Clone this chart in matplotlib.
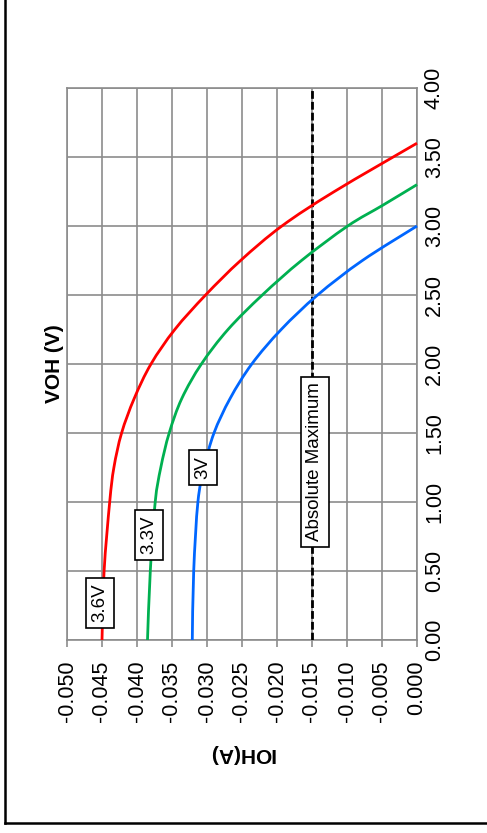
import matplotlib
matplotlib.use("Agg")
import matplotlib.pyplot as plt
from matplotlib.lines import Line2D
from matplotlib.path import Path
from matplotlib.patches import PathPatch

plt.rcParams['font.family'] = ['Liberation Sans', 'DejaVu Sans']

# Data (VOH in V, IOH in A)
voh_36 = [0.0, 0.5, 1.0, 1.25, 1.5, 1.75, 2.0, 2.25, 2.5, 2.75, 3.0, 3.25, 3.6]
ioh_36 = [-0.0450, -0.0447, -0.0439, -0.0433, -0.0422, -0.0404, -0.0380, -0.0346, -0.0302, -0.0252,
          -0.0193, -0.0118, 0.0]

voh_33 = [0.0, 0.5, 1.0, 1.25, 1.5, 1.75, 2.0, 2.25, 2.5, 2.75, 3.0, 3.15, 3.3]
ioh_33 = [-0.0385, -0.0381, -0.0374, -0.0366, -0.0354, -0.0336, -0.0308, -0.0270, -0.0221, -0.0165,
          -0.0099, -0.0049, 0.0]

voh_30 = [0.0, 0.5, 1.0, 1.25, 1.5, 1.75, 2.0, 2.25, 2.5, 2.75, 3.0]
ioh_30 = [-0.0321, -0.0319, -0.0313, -0.0304, -0.0290, -0.0267, -0.0236, -0.0194, -0.0142, -0.0078, 0.0]

abs_max_ioh = -0.015

x_ticks = [-0.050, -0.045, -0.040, -0.035, -0.030, -0.025, -0.020, -0.015, -0.010, -0.005, 0.000]
y_ticks = [0.0, 0.5, 1.0, 1.5, 2.0, 2.5, 3.0, 3.5, 4.0]

series_labels = ["3.6V", "3.3V", "3V"]
label_pos = [(-0.0453, 0.27), (-0.0383, 0.76), (-0.0306, 1.25)]


def smooth_path(xs, ys):
    """Smoothed line through the points (like a spreadsheet 'smoothed line'), as Bezier segments."""
    pts = list(zip(xs, ys))
    n = len(pts)
    verts = [pts[0]]
    codes = [Path.MOVETO]
    for i in range(n - 1):
        p0 = pts[i - 1] if i > 0 else pts[i]
        p1 = pts[i]
        p2 = pts[i + 1]
        p3 = pts[i + 2] if i + 2 < n else pts[i + 1]
        c1 = (p1[0] + (p2[0] - p0[0]) / 6.0, p1[1] + (p2[1] - p0[1]) / 6.0)
        c2 = (p2[0] - (p3[0] - p1[0]) / 6.0, p2[1] - (p3[1] - p1[1]) / 6.0)
        verts += [c1, c2, p2]
        codes += [Path.CURVE4, Path.CURVE4, Path.CURVE4]
    return Path(verts, codes)


W, H = 487, 833
fig = plt.figure(figsize=(W / 100, H / 100), dpi=100)
ax = fig.add_axes([67 / W, 1 - 640 / H, 350 / W, 552 / H])

gridc = '#8c8c8c'
ax.set_xlim(-0.050, 0.000)
ax.set_ylim(0, 4.0)
ax.set_xticks(x_ticks)
ax.set_yticks(y_ticks)
ax.set_xticklabels([f"{v:.3f}" for v in x_ticks], rotation=90, fontsize=15.5)
ax.set_yticklabels([f"{v:.2f}" for v in y_ticks], rotation=90, fontsize=15.5, va='center')
ax.yaxis.tick_right()
ax.tick_params(axis='x', length=5, width=1.2, color=gridc, pad=10)
ax.tick_params(axis='y', length=0, pad=5)
ax.grid(True, color=gridc, linewidth=1.2)
ax.set_axisbelow(True)
for s in ax.spines.values():
    s.set_color(gridc)
    s.set_linewidth(1.2)

ax.axvline(abs_max_ioh, color='black', linewidth=2, linestyle=(0, (2.8, 1.1)), zorder=3)

for xs, ys, col in [(ioh_36, voh_36, '#FF0000'), (ioh_33, voh_33, '#00B050'), (ioh_30, voh_30, '#0066FF')]:
    ax.add_patch(PathPatch(smooth_path(xs, ys), facecolor='none', edgecolor=col, linewidth=2,
                           zorder=4, transform=ax.transData, clip_on=False))

bbox = dict(boxstyle='square,pad=0.3', facecolor='white', edgecolor='black', linewidth=1.2)
for lab, (xv, yv) in zip(series_labels, label_pos):
    ax.text(xv, yv, lab, rotation=90, ha='center', va='center', fontsize=13.5, bbox=bbox, zorder=5)
ax.text(-0.0146, 1.29, "Absolute Maximum", rotation=90, ha='center', va='center', fontsize=13.5,
        bbox=bbox, zorder=5)

fig.text(54 / W, 1 - 364 / H, "VOH (V)", rotation=90, ha='center', va='center', fontsize=15,
         fontweight='bold')
fig.text(242 / W, 1 - 753 / H, "IOH(A)", rotation=180, ha='center', va='center', fontsize=15,
         fontweight='bold')

fig.add_artist(Line2D([5 / W, 5 / W], [1 - 823 / H, 1.0], transform=fig.transFigure, color='black', linewidth=1.8))
fig.add_artist(Line2D([5 / W, 1.0], [1 - 823 / H, 1 - 823 / H], transform=fig.transFigure, color='black', linewidth=1.8))

fig.savefig("out.png", dpi=100)
